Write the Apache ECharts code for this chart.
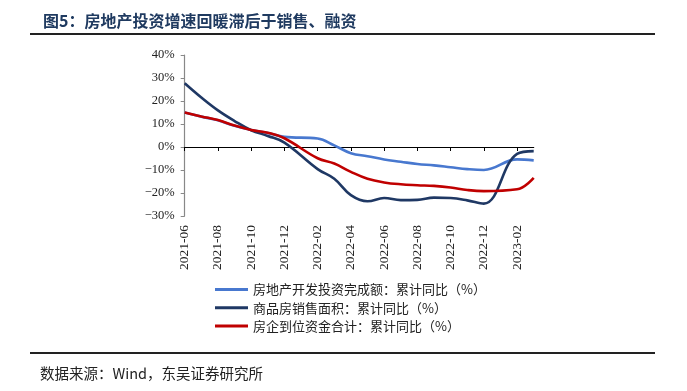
<!DOCTYPE html>
<html><head><meta charset="utf-8">
<script src="https://cdn.jsdelivr.net/npm/echarts@6/dist/echarts.min.js"></script>
<style>html,body{margin:0;padding:0;background:#fff}#c{width:687px;height:391px}</style>
</head><body><div id="c"></div>
<script>
const months = ['2021-06','2021-07','2021-08','2021-09','2021-10','2021-11','2021-12',
  '2022-01','2022-02','2022-03','2022-04','2022-05','2022-06','2022-07','2022-08','2022-09',
  '2022-10','2022-11','2022-12','2023-01','2023-02','2023-03'];
// cumulative YoY (%), January not published separately (null)
const invest = [15.0,13.2,11.6,9.2,7.4,6.1,4.4,null,3.7,0.7,-2.7,-4.0,-5.4,-6.4,-7.4,-8.0,-8.8,-9.6,-10.0,null,-5.4,-5.8];
const sales  = [27.7,21.5,15.9,11.3,7.3,4.8,1.9,null,-9.6,-13.8,-20.9,-23.6,-22.2,-23.1,-23.0,-22.0,-22.2,-23.2,-24.6,null,-3.0,-1.8];
const funds  = [15.0,13.3,11.7,9.3,7.4,6.2,3.8,null,-4.9,-7.2,-10.8,-13.8,-15.4,-16.2,-16.6,-16.9,-17.6,-18.7,-19.2,null,-18.4,-13.4];
const names = ['房地产开发投资完成额：累计同比（%）','商品房销售面积：累计同比（%）','房企到位资金合计：累计同比（%）'];
const colors = ['#4878CF','#1F3864','#C00000'];
const yTicks = {min:-30, max:40, step:10};

const serif = '"Liberation Serif","DejaVu Serif",serif';
const cjk = '"Noto Sans CJK SC","Noto Sans",sans-serif';
const chart = echarts.init(document.getElementById('c'));
const mk = (name, data, color, z) => ({
  name, type:'line', data, xAxisIndex:0, yAxisIndex:0, smooth:0.4, connectNulls:true,
  showSymbol:false, symbol:'none', z, lineStyle:{color, width:2.6}, itemStyle:{color}
});
chart.setOption({
  animation:false,
  title:{text:'图5：房地产投资增速回暖滞后于销售、融资', left:38, top:8,
    textStyle:{fontFamily:cjk, fontSize:16, fontWeight:'bold', color:'#1F3A60'}},
  grid:{left:184.7, right:153.3, top:55, bottom:175, containLabel:false},
  legend:{orient:'vertical', left:215, top:283, padding:0, itemWidth:33, itemHeight:3, itemGap:5.2,
    icon:'rect', data:names, selectedMode:false,
    textStyle:{fontFamily:cjk, fontSize:13, color:'#222'}},
  xAxis:[
    {type:'category', data:months, boundaryGap:false, position:'top',
     axisLine:{onZero:true, lineStyle:{color:'#000', width:1.2}},
     axisTick:{show:true, inside:true, interval:1, length:4, lineStyle:{color:'#000'}},
     axisLabel:{show:false}, splitLine:{show:false}},
    {type:'category', data:months, boundaryGap:false, position:'bottom',
     axisLine:{show:false, onZero:false}, axisTick:{show:false},
     axisLabel:{interval:1, rotate:90, margin:9, fontFamily:serif, fontSize:13.5, color:'#222'},
     splitLine:{show:false}}
  ],
  yAxis:{type:'value', min:yTicks.min, max:yTicks.max, interval:yTicks.step,
    axisLine:{show:true, lineStyle:{color:'#888', width:1.2}},
    axisTick:{show:true, length:4, lineStyle:{color:'#888'}},
    splitLine:{show:false},
    axisLabel:{margin:10, fontFamily:serif, fontSize:12.5, color:'#222',
      formatter:v => (v<0 ? '\u2212' + Math.abs(v) : v) + '%'}},
  graphic:[
    {type:'rect', shape:{x:30, y:33, width:625, height:2}, style:{fill:'#222'}},
    {type:'rect', shape:{x:30, y:352, width:625, height:2}, style:{fill:'#222'}},
    {type:'text', left:40, top:366, style:{text:'数据来源：Wind，东吴证券研究所',
      font:'14.5px ' + cjk, fill:'#222'}}
  ],
  series:[mk(names[0], invest, colors[0], 2), mk(names[1], sales, colors[1], 3), mk(names[2], funds, colors[2], 4)]
});
</script></body></html>
